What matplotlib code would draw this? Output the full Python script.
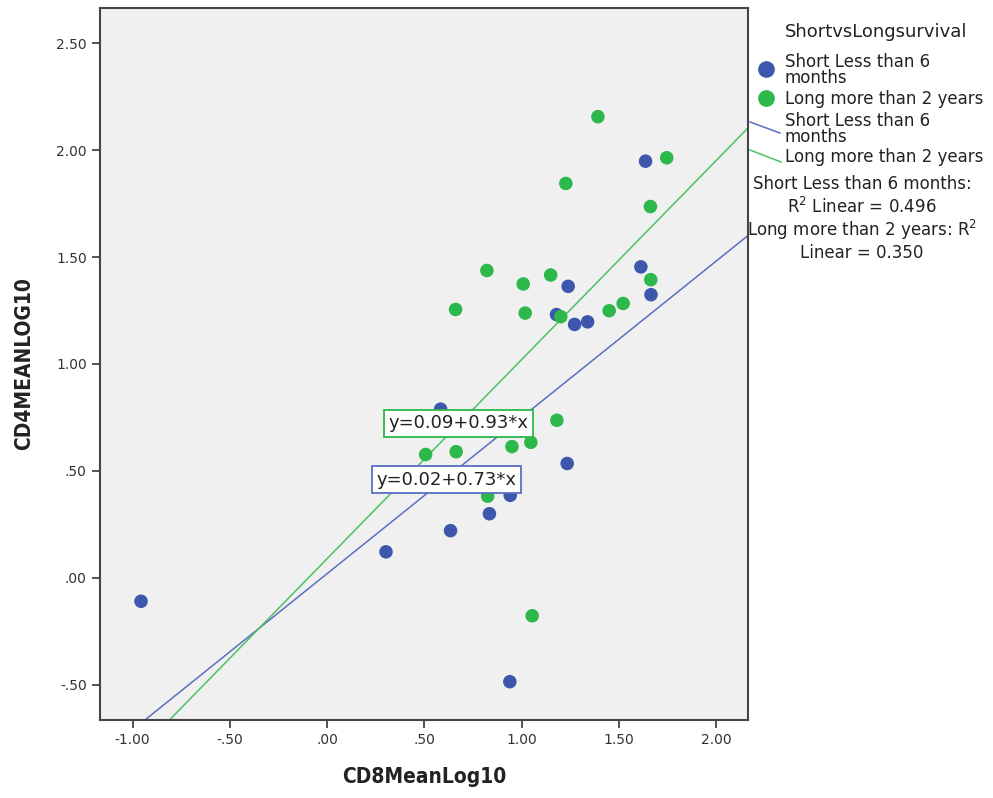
import matplotlib
matplotlib.use("Agg")
import matplotlib.pyplot as plt
from matplotlib.lines import Line2D

# CD8 / CD4 mean log10 values per group
short_cd8 = [-0.957, 0.303, 0.635, 0.835, 0.942, 1.235, 0.940, 0.584, 1.240, 1.180,
             1.273, 1.340, 1.614, 1.638, 1.666]
short_cd4 = [-0.109, 0.122, 0.221, 0.300, 0.386, 0.535, -0.485, 0.789, 1.363, 1.231,
             1.185, 1.197, 1.454, 1.948, 1.324]

long_cd8 = [1.393, 1.747, 1.228, 1.663, 0.822, 1.150, 1.009, 1.665, 0.661, 1.019,
            1.202, 1.451, 1.523, 1.182, 0.507, 0.664, 0.951, 1.048, 0.826, 1.055]
long_cd4 = [2.156, 1.964, 1.844, 1.736, 1.437, 1.416, 1.374, 1.394, 1.255, 1.238,
            1.221, 1.249, 1.283, 0.737, 0.577, 0.590, 0.614, 0.634, 0.382, -0.177]

# fit lines (intercept, slope) and R^2
short_fit = (0.02, 0.73)
long_fit = (0.09, 0.93)
short_r2 = 0.496
long_r2 = 0.350

group_names = ["Short Less than 6\nmonths", "Long more than 2 years"]
xticks = [-1.0, -0.5, 0.0, 0.5, 1.0, 1.5, 2.0]
yticks = [-0.5, 0.0, 0.5, 1.0, 1.5, 2.0, 2.5]

BLUE = "#3d57ad"
GREEN = "#2cb84b"
BLUE_LINE = "#5b6ec2"
GREEN_LINE = "#4cc262"

W, H = 993, 798
fig = plt.figure(figsize=(W / 100, H / 100), dpi=100)
ax = fig.add_axes([100 / W, 1 - 720 / H, 648 / W, 712 / H])
ax.set_facecolor("#f0f0f0")

xlim = (-1.168, 2.165)
ylim = (-0.664, 2.664)
ax.set_xlim(*xlim)
ax.set_ylim(*ylim)

ax.scatter(short_cd8, short_cd4, s=95, color=BLUE, edgecolors="none", zorder=3)
ax.scatter(long_cd8, long_cd4, s=95, color=GREEN, edgecolors="none", zorder=3)

for (b0, b1), c in [(short_fit, BLUE_LINE), (long_fit, GREEN_LINE)]:
    ax.plot(list(xlim), [b0 + b1 * xlim[0], b0 + b1 * xlim[1]], color=c, lw=1.1, zorder=2)


def fmt(v):
    s = "%.2f" % v
    return s.replace("0.", ".", 1) if abs(v) < 1 else s


ax.set_xticks(xticks)
ax.set_xticklabels([fmt(v) for v in xticks])
ax.set_yticks(yticks)
ax.set_yticklabels([fmt(v) for v in yticks])
ax.tick_params(direction="out", length=6, width=1.3, color="#444444",
               labelsize=10, labelcolor="#333333")
for sp in ax.spines.values():
    sp.set_color("#444444")
    sp.set_linewidth(1.5)

lab_font = dict(family="DejaVu Sans", stretch="condensed", weight="bold", size=15, color="#222222")
ax.set_xlabel("CD8MeanLog10", labelpad=14, **lab_font)
ax.set_ylabel("CD4MEANLOG10", labelpad=16, **lab_font)

# equation boxes
ax.text(0.678, 0.723, "y=%.2f+%.2f*x" % long_fit, ha="center", va="center",
        fontsize=13, color="#222222", zorder=5,
        bbox=dict(boxstyle="square,pad=0.25", fc="white", ec=GREEN, lw=1.3))
ax.text(0.612, 0.46, "y=%.2f+%.2f*x" % short_fit, ha="center", va="center",
        fontsize=13, color="#222222", zorder=5,
        bbox=dict(boxstyle="square,pad=0.25", fc="white", ec=BLUE_LINE, lw=1.3))


# legend drawn by hand in pixel positions
def px(x, y):
    return x / W, 1 - y / H


fig.text(*px(785, 32), "ShortvsLongsurvival", fontsize=13, va="center", color="#222222")
fig.add_artist(Line2D(*zip(px(766, 69)), marker="o", ms=11, color=BLUE, ls="none"))
fig.add_artist(Line2D(*zip(px(766, 98)), marker="o", ms=11, color=GREEN, ls="none"))
fig.text(*px(785, 70), group_names[0], fontsize=12, va="center", linespacing=0.92, color="#222222")
fig.text(*px(785, 99), group_names[1], fontsize=12, va="center", color="#222222")

a, b = px(750, 122), px(780, 133)
fig.add_artist(Line2D([a[0], b[0]], [a[1], b[1]], color=BLUE_LINE, lw=1.1))
a, b = px(750, 150), px(781, 162)
fig.add_artist(Line2D([a[0], b[0]], [a[1], b[1]], color=GREEN_LINE, lw=1.1))
fig.text(*px(785, 129), group_names[0], fontsize=12, va="center", linespacing=0.92, color="#222222")
fig.text(*px(785, 157), group_names[1], fontsize=12, va="center", color="#222222")

fig.text(*px(862, 196), "Short Less than 6 months:\nR$^2$ Linear = %.3f" % short_r2,
         fontsize=12, ha="center", va="center", multialignment="center", color="#222222")
fig.text(*px(862, 240), "Long more than 2 years: R$^2$\nLinear = %.3f" % long_r2,
         fontsize=12, ha="center", va="center", multialignment="center", color="#222222")

fig.savefig("out.png", dpi=100)
